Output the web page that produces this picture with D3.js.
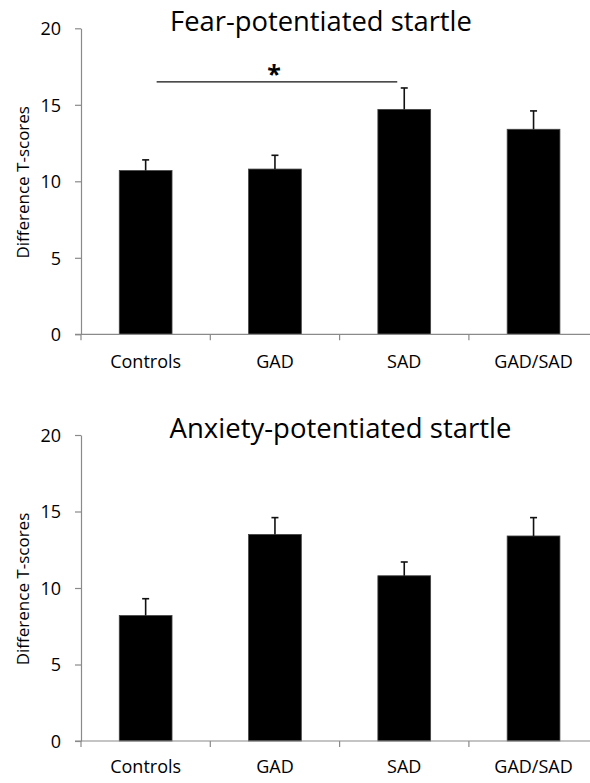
<!DOCTYPE html>
<html>
<head>
<meta charset="utf-8">
<script src="https://cdn.jsdelivr.net/npm/d3@7"></script>
<style>
  html, body { margin: 0; padding: 0; background: #fff; }
  svg { display: block; font-family: "Open Sans", "Noto Sans", sans-serif; }
</style>
</head>
<body>
<svg id="chart" width="590" height="783"></svg>
<script>
const categories = ["Controls", "GAD", "SAD", "GAD/SAD"];
const yTicks = [0, 5, 10, 15, 20];

const fearTitle = "Fear-potentiated startle";
const fearMeans = [10.7, 10.8, 14.7, 13.4];
const fearErrors = [0.7, 0.9, 1.4, 1.2];
const fearSignificance = [{ from: "Controls", to: "SAD", level: 16.5, label: "*" }];

const anxietyTitle = "Anxiety-potentiated startle";
const anxietyMeans = [8.2, 13.5, 10.8, 13.4];
const anxietyErrors = [1.1, 1.1, 0.9, 1.2];
const anxietySignificance = [];

const yLabel = "Difference T-scores";

const svg = d3.select("#chart");
const axisColor = "#8a8a8a";
const textColor = "#000";

function fitText(sel, width) {
  const w = sel.node().getComputedTextLength();
  const fs = parseFloat(sel.attr("font-size"));
  sel.attr("font-size", fs * width / w);
}

function drawPanel(cfg) {
  const g = svg.append("g");
  const x = d3.scaleBand().domain(categories).range([81, 598.2]).padding(0);
  const y = d3.scaleLinear().domain([0, 20]).range([cfg.y0, cfg.y0 - 306]);
  const barW = x.bandwidth() * 0.408;
  const cx = c => x(c) + x.bandwidth() / 2;

  const data = categories.map((c, i) => ({ c, m: cfg.means[i], e: cfg.errors[i] }));

  // y axis
  const yAxis = g.append("g").attr("transform", `translate(${x.range()[0]},0)`)
    .call(d3.axisLeft(y).tickValues(yTicks).tickSize(6).tickPadding(14).tickSizeOuter(0));
  yAxis.select(".domain").attr("stroke", axisColor).attr("stroke-width", 1.2);
  yAxis.selectAll(".tick line").attr("stroke", axisColor).attr("stroke-width", 1.2);
  yAxis.selectAll(".tick text").attr("fill", textColor).attr("font-size", 18)
    .attr("font-family", "Open Sans").attr("dy", "0.36em");

  // bars
  g.selectAll("rect.bar").data(data).join("rect").attr("class", "bar")
    .attr("x", d => cx(d.c) - barW / 2)
    .attr("y", d => y(d.m))
    .attr("width", barW)
    .attr("height", d => y(0) - y(d.m))
    .attr("fill", "#000")
    .attr("stroke", "#444").attr("stroke-width", 0.8);

  // error bars (upper only)
  const eb = g.selectAll("g.err").data(data).join("g").attr("class", "err");
  eb.append("line")
    .attr("x1", d => cx(d.c)).attr("x2", d => cx(d.c))
    .attr("y1", d => y(d.m)).attr("y2", d => y(d.m + d.e))
    .attr("stroke", "#111").attr("stroke-width", 1.6);
  eb.append("line")
    .attr("x1", d => cx(d.c) - 3.5).attr("x2", d => cx(d.c) + 3.5)
    .attr("y1", d => y(d.m + d.e)).attr("y2", d => y(d.m + d.e))
    .attr("stroke", "#111").attr("stroke-width", 1.6);

  // x axis
  const xAxisG = g.append("g").attr("transform", `translate(0,${y(0)})`);
  xAxisG.append("line").attr("x1", x.range()[0] - 6).attr("x2", x.range()[1])
    .attr("stroke", axisColor).attr("stroke-width", 1.2);
  xAxisG.selectAll("line.sep").data(categories).join("line").attr("class", "sep")
    .attr("x1", d => x(d)).attr("x2", d => x(d)).attr("y1", 0).attr("y2", 6)
    .attr("stroke", axisColor).attr("stroke-width", 1.2);
  xAxisG.selectAll("text.cat").data(categories).join("text").attr("class", "cat")
    .attr("x", d => cx(d))
    .attr("y", cfg.labelOffset)
    .attr("text-anchor", "middle").attr("font-size", 18).attr("fill", textColor)
    .text(d => d);

  // y label
  g.append("text")
    .attr("transform", `translate(29,${cfg.y0 - 152}) rotate(-90)`)
    .attr("text-anchor", "middle").attr("font-size", 17).attr("fill", textColor)
    .text(yLabel);

  // title
  const t = g.append("text").attr("x", cfg.titleX).attr("y", cfg.titleY)
    .attr("text-anchor", "middle").attr("font-size", 23).attr("fill", textColor)
    .text(cfg.title);
  fitText(t, cfg.titleW);

  // significance
  cfg.sig.forEach(s => {
    const x1 = cx(s.from) + 11;
    const x2 = cx(s.to) - 7;
    g.append("line").attr("x1", x1).attr("x2", x2).attr("y1", y(s.level)).attr("y2", y(s.level))
      .attr("stroke", "#111").attr("stroke-width", 1.3);
    g.append("text").attr("x", (x1 + x2) / 2 - 3).attr("y", y(s.level) + 1)
      .attr("text-anchor", "middle").attr("font-size", 25).attr("font-weight", "bold").attr("fill", textColor)
      .text(s.label);
  });
}

drawPanel({ y0: 334.3, means: fearMeans, errors: fearErrors, title: fearTitle,
  titleX: 321, titleY: 30.7, titleW: 302, sig: fearSignificance, labelOffset: 34 });
drawPanel({ y0: 741, means: anxietyMeans, errors: anxietyErrors, title: anxietyTitle,
  titleX: 340.5, titleY: 438.3, titleW: 342, sig: anxietySignificance, labelOffset: 32 });
</script>
</body>
</html>
